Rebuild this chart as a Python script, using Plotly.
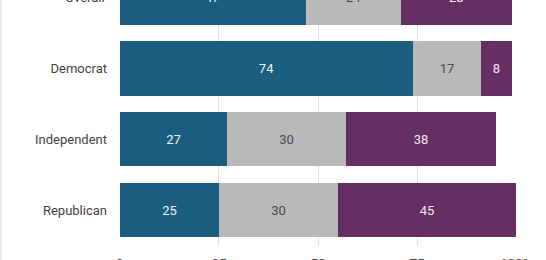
import plotly.graph_objects as go

groups = ["Overall", "Democrat", "Independent", "Republican"]
first_vals = [47, 74, 27, 25]
middle_vals = [24, 17, 30, 30]
last_vals = [28, 8, 38, 45]
x_tickvals = [0, 25, 50, 75, 100]
x_ticktext = ["0", "25", "50", "75", "100%"]

blue = "#1a5d7f"
gray = "#b9b9b9"
purple = "#652f63"

ypos = list(range(len(groups)))
y_range = [3.509, 0.032]  # reversed

fig = go.Figure()
series = [
    (first_vals, blue, "#eef3f6"),
    (middle_vals, gray, "#4a4a4a"),
    (last_vals, purple, "#f3e6f2"),
]
for vals, col, tcol in series:
    fig.add_trace(go.Bar(
        y=ypos, x=vals, orientation="h",
        marker=dict(color=col, line=dict(width=0)),
        width=0.77,
        text=[str(v) for v in vals],
        textposition="inside",
        insidetextanchor="middle",
        textangle=0,
        constraintext="none",
        insidetextfont=dict(family="Roboto", size=13, color=tcol),
        cliponaxis=False,
        showlegend=False,
        hoverinfo="skip",
    ))

vis_ticks = [i for i in ypos if min(y_range) <= i <= max(y_range)]
hidden = [i for i in ypos if i not in vis_ticks]

def y_to_paper(v):
    return (y_range[0] - v) / (y_range[0] - y_range[1])

annotations = []
for i in hidden:
    annotations.append(dict(
        text=groups[i], xref="paper", yref="paper",
        x=0, y=y_to_paper(i), xanchor="right", yanchor="middle",
        xshift=-12, showarrow=False,
        font=dict(family="Roboto", size=13, color="#444444"),
    ))
    # segment value labels for rows whose centre lies outside the range
    cum = 0
    for vals, col, tcol in series:
        v = vals[i]
        annotations.append(dict(
            text=str(v), xref="x", yref="paper",
            x=cum + v / 2, y=y_to_paper(i), xanchor="center", yanchor="middle",
            showarrow=False,
            font=dict(family="Roboto", size=13, color=tcol),
        ))
        cum += v

fig.update_layout(
    width=546, height=260,
    margin=dict(l=119, r=29, t=0, b=14, autoexpand=False),
    paper_bgcolor="white", plot_bgcolor="white",
    barmode="stack", bargap=0,
    font=dict(family="Roboto", size=13, color="#444444"),
    xaxis=dict(
        range=[-0.2, 100.2], tickvals=x_tickvals, ticktext=x_ticktext,
        showgrid=True, gridcolor="#e3e3e3", gridwidth=1, zeroline=False,
        showline=False, ticks="", ticklabelstandoff=7, automargin=False,
        tickfont=dict(family="Roboto", size=13.5, color="#444444"),
    ),
    yaxis=dict(
        range=y_range, tickvals=vis_ticks, ticktext=[groups[i] for i in vis_ticks],
        showgrid=False, zeroline=False, showline=False, ticks="",
        ticklabelstandoff=11, automargin=False,
        tickfont=dict(family="Roboto", size=13, color="#444444"),
    ),
    annotations=annotations,
    shapes=[dict(type="line", xref="paper", yref="paper",
                 x0=(1 - 119.2) / 397.6, x1=(1 - 119.2) / 397.6, y0=-0.2, y1=1.2,
                 line=dict(color="#e6e6e6", width=2))],
)

fig.write_html("out.html")
